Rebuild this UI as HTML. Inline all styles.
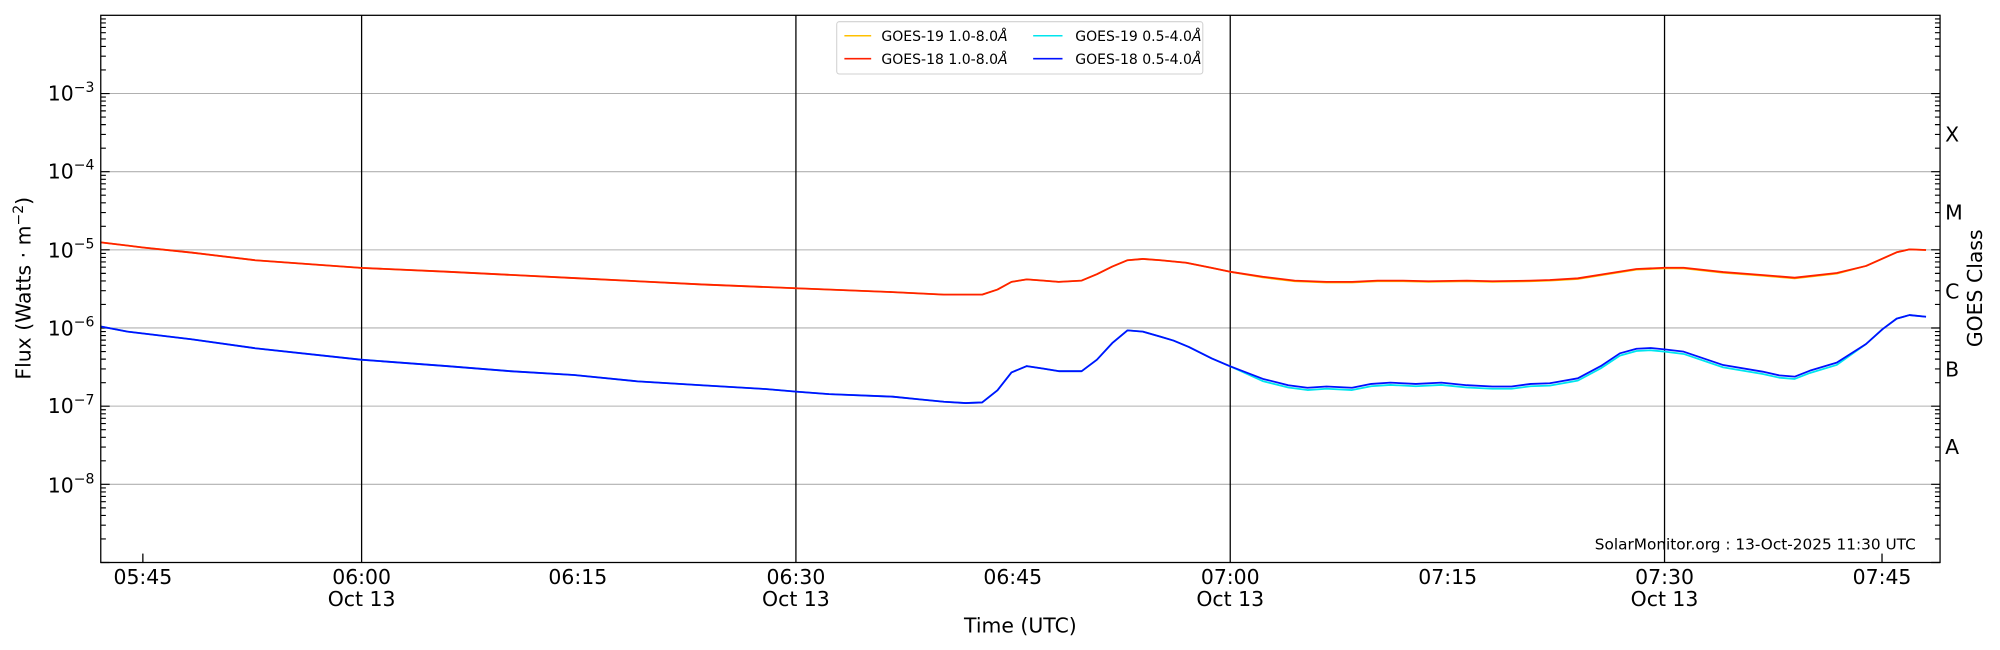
<!DOCTYPE html>
<html><head><meta charset="utf-8"><style>html,body{margin:0;padding:0;background:#fff;}svg{display:block}</style></head>
<body>
<svg width="2000" height="650" viewBox="0 0 1568 509.6" xmlns="http://www.w3.org/2000/svg" xmlns:xlink="http://www.w3.org/1999/xlink" font-family="'DejaVu Sans','Liberation Sans',sans-serif">
<defs>
<path id="dec" stroke="#000" stroke-width="0.9" fill="none" d="M79 0h7M79 -18.45h4M79 -29.23h4M79 -36.89h4M79 -42.83h4M79 -47.68h4M79 -51.78h4M79 -55.33h4M79 -58.47h4M1521 0h-7M1521 -18.45h-4M1521 -29.23h-4M1521 -36.89h-4M1521 -42.83h-4M1521 -47.68h-4M1521 -51.78h-4M1521 -55.33h-4M1521 -58.47h-4"/>
</defs>
<rect width="1568" height="510" fill="#fff"/>
<g stroke="#b0b0b0" stroke-width="0.8">
<line x1="79" x2="1521" y1="73.3" y2="73.3"/><line x1="79" x2="1521" y1="134.6" y2="134.6"/>
<line x1="79" x2="1521" y1="195.9" y2="195.9"/><line x1="79" x2="1521" y1="257.1" y2="257.1"/>
<line x1="79" x2="1521" y1="318.4" y2="318.4"/><line x1="79" x2="1521" y1="379.7" y2="379.7"/>
</g>
<g stroke="#000" stroke-width="1">
<line x1="283.5" x2="283.5" y1="12" y2="441"/><line x1="624" x2="624" y1="12" y2="441"/>
<line x1="964.5" x2="964.5" y1="12" y2="441"/><line x1="1305" x2="1305" y1="12" y2="441"/>
<line x1="112" x2="112" y1="441" y2="434"/><line x1="1475.5" x2="1475.5" y1="441" y2="434"/>
</g>
<use xlink:href="#dec" href="#dec" transform="translate(0,441)"/>
<use xlink:href="#dec" href="#dec" transform="translate(0,379.72)"/>
<use xlink:href="#dec" href="#dec" transform="translate(0,318.44)"/>
<use xlink:href="#dec" href="#dec" transform="translate(0,257.16)"/>
<use xlink:href="#dec" href="#dec" transform="translate(0,195.88)"/>
<use xlink:href="#dec" href="#dec" transform="translate(0,134.6)"/>
<use xlink:href="#dec" href="#dec" transform="translate(0,73.32)"/>
<g fill="none" stroke-width="1.4" stroke-linejoin="round">
<polyline id="orange" stroke="#ffc000"/>
<polyline id="red" stroke="#ff2000"/>
<polyline id="cyan" stroke="#00e5ee"/>
<polyline id="blue" stroke="#0010ff"/>
</g>
<rect x="79" y="12" width="1442" height="429" fill="none" stroke="#000" stroke-width="1"/>
<g font-size="16" text-anchor="end">
<text x="74" y="79">10<tspan dy="-7" font-size="11">−3</tspan></text>
<text x="74" y="140">10<tspan dy="-7" font-size="11">−4</tspan></text>
<text x="74" y="202">10<tspan dy="-7" font-size="11">−5</tspan></text>
<text x="74" y="263">10<tspan dy="-7" font-size="11">−6</tspan></text>
<text x="74" y="324">10<tspan dy="-7" font-size="11">−7</tspan></text>
<text x="74" y="386">10<tspan dy="-7" font-size="11">−8</tspan></text>
</g>
<g font-size="16">
<text x="1525" y="111">X</text><text x="1525" y="172">M</text><text x="1525" y="234">C</text>
<text x="1525" y="295">B</text><text x="1525" y="356">A</text>
</g>
<g font-size="16" text-anchor="middle">
<text x="112" y="458">05:45</text>
<text x="283.5" y="458">06:00</text><text x="283.5" y="475">Oct 13</text>
<text x="453" y="458">06:15</text>
<text x="624" y="458">06:30</text><text x="624" y="475">Oct 13</text>
<text x="794" y="458">06:45</text>
<text x="964.5" y="458">07:00</text><text x="964.5" y="475">Oct 13</text>
<text x="1135" y="458">07:15</text>
<text x="1305" y="458">07:30</text><text x="1305" y="475">Oct 13</text>
<text x="1475.5" y="458">07:45</text>
<text x="800" y="496">Time (UTC)</text>
<text transform="translate(24,226) rotate(-90)">Flux (Watts · m<tspan dy="-6" font-size="11">−2</tspan><tspan dy="6">)</tspan></text>
<text transform="translate(1554,226) rotate(-90)">GOES Class</text>
</g>
<text x="1502" y="431" font-size="12" text-anchor="end">SolarMonitor.org : 13-Oct-2025 11:30 UTC</text>
<rect x="656" y="17" width="287" height="41" fill="#fff" fill-opacity="0.8" stroke="#d0d0d0" stroke-width="0.8" rx="2"/>
<g stroke-width="1.2">
<line x1="662" x2="683" y1="28" y2="28" stroke="#ffc000"/><line x1="662" x2="683" y1="46" y2="46" stroke="#ff2000"/>
<line x1="810" x2="833" y1="28" y2="28" stroke="#00e5ee"/><line x1="810" x2="833" y1="46" y2="46" stroke="#0010ff"/>
</g>
<g font-size="11">
<text x="691" y="32">GOES-19 1.0-8.0<tspan font-style="italic">Å</tspan></text>
<text x="691" y="50">GOES-18 1.0-8.0<tspan font-style="italic">Å</tspan></text>
<text x="843" y="32">GOES-19 0.5-4.0<tspan font-style="italic">Å</tspan></text>
<text x="843" y="50">GOES-18 0.5-4.0<tspan font-style="italic">Å</tspan></text>
</g>
<script>
var red=[[79,190],[112,194],[150,198],[200,204],[283,210],[350,213],[450,218],[550,223],[624,226],[700,229],[740,231],[770,231],[782,227],[793,221],[805,219],[818,220],[830,221],[848,220],[860,215],[872,209],[884,204],[896,203],[910,204],[930,206],[950,210],[964,213],[990,217],[1015,220],[1040,221],[1060,221],[1080,220],[1100,220],[1120,220.5],[1150,220],[1170,220.5],[1200,220],[1215,219.5],[1237,218.2],[1260,214.5],[1283,210.9],[1305,209.9],[1320,209.9],[1351,213.3],[1380,215.5],[1407,217.7],[1440,214],[1463,208.5],[1487,197.8],[1497,195.5],[1510,196]];
var blue=[[79,256],[100,260],[150,266],[200,273],[283,282],[350,287],[400,291],[450,294],[500,299],[550,302],[600,305],[624,307],[650,309],[700,311],[720,313],[740,315],[757,316],[770,315.5],[782,306],[793,292],[805,287],[818,289],[830,291],[848,291],[860,282],[872,269],[884,259],[896,260],[910,264],[920,267],[932,272],[950,281],[964,287],[990,297],[1010,302],[1025,304],[1040,303],[1060,304],[1075,301],[1090,300],[1110,301],[1130,300],[1150,302],[1170,303],[1185,303],[1200,301],[1215,300.5],[1237,296.6],[1255,287],[1270,277],[1283,273.4],[1294,272.8],[1305,273.9],[1320,275.7],[1351,286.2],[1382,291.4],[1395,294.3],[1407,295.3],[1419,290.6],[1440,284.3],[1463,269.7],[1476,258],[1487,249.8],[1497,247],[1510,248.3]];
function s(a,d){return a.map(function(p){return p[0]+','+(p[1]+(d&&p[0]>980&&p[0]<1460?d:0))}).join(' ');}
document.getElementById('red').setAttribute('points',s(red));
document.getElementById('orange').setAttribute('points',s(red,0.5));
document.getElementById('blue').setAttribute('points',s(blue));
document.getElementById('cyan').setAttribute('points',s(blue,1.8));
</script>
</svg>
</body></html>
